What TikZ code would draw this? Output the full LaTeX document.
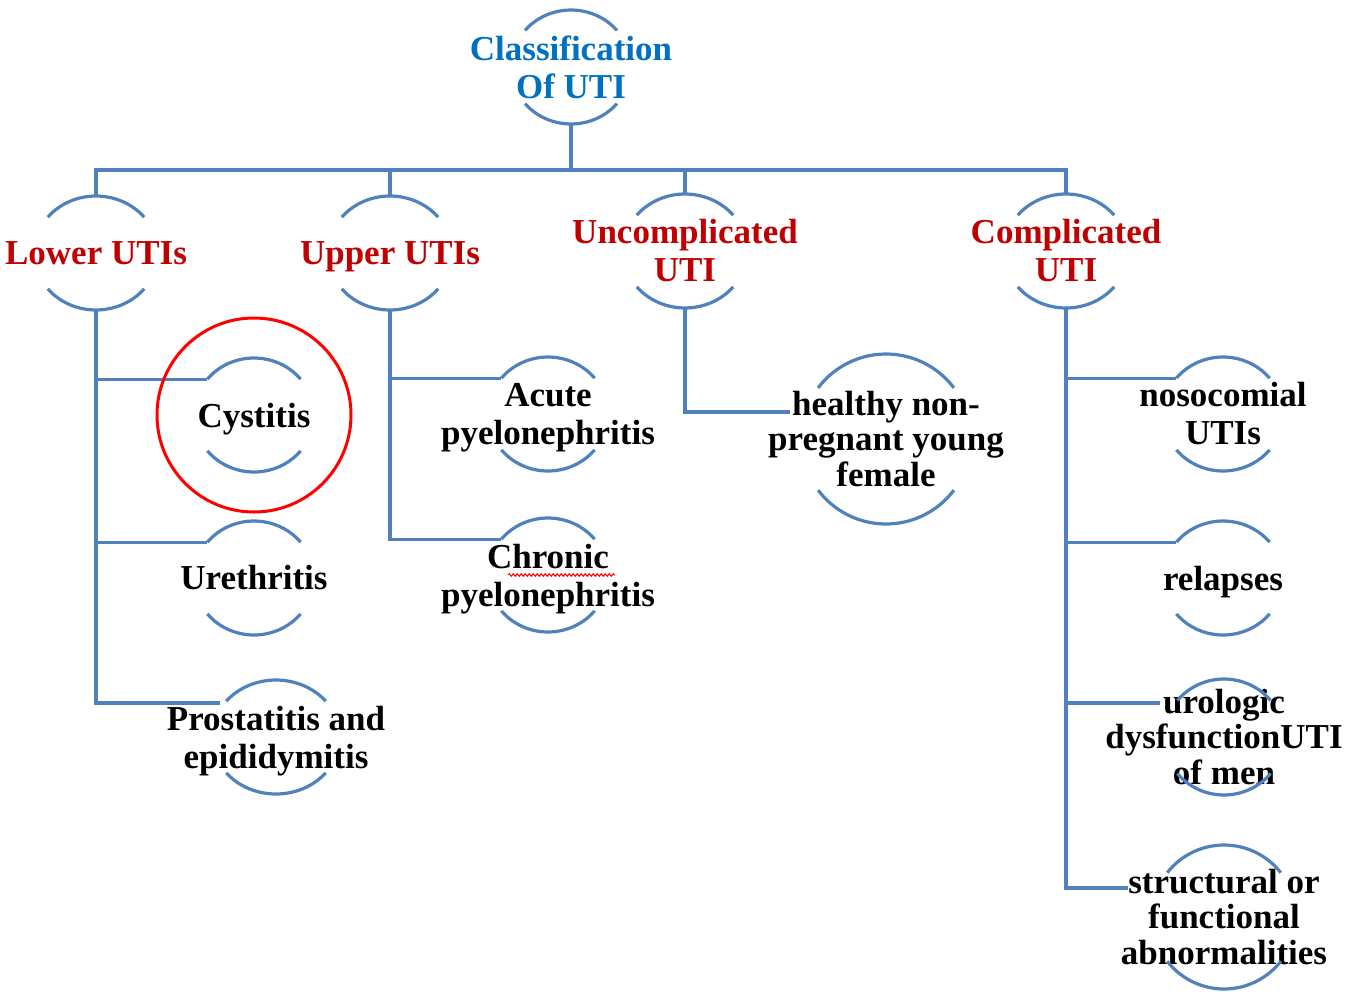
\documentclass[tikz,border=0pt]{standalone}
\usepackage{fontspec}
\setmainfont{Liberation Serif}
\usetikzlibrary{calc,decorations.pathmorphing}
\definecolor{lineblue}{RGB}{79,129,189}
\definecolor{titleblue}{RGB}{0,112,192}
\definecolor{darkred}{RGB}{192,0,0}
\pgfdeclarelayer{bg}
\pgfsetlayers{bg,main}
\newcommand\nodepth[1]{\raisebox{0pt}[\height][0pt]{#1}}
\tikzset{
  lbl/.style={font=\fontsize{35}{38}\selectfont\bfseries, align=center, inner sep=0pt, text=black},
  lblthree/.style={lbl, font=\fontsize{35}{35.5}\selectfont\bfseries},
  toplbl/.style={lbl, text=titleblue},
  catlbl/.style={lbl, text=darkred},
  conn/.style={draw=lineblue, line width=3.2pt},
  arcline/.style={draw=lineblue, line width=3.2pt},
}
% #1 node name, #2 x radius (pt), #3 y radius (pt), #4 half-angle from horizontal
\newcommand\twoarcs[4]{%
  \draw[arcline] ($(#1.center)+({180-#4}:#2pt and #3pt)$) arc[start angle={180-#4}, end angle=#4, x radius=#2pt, y radius=#3pt];
  \draw[arcline] ($(#1.center)+({180+#4}:#2pt and #3pt)$) arc[start angle={180+#4}, end angle={360-#4}, x radius=#2pt, y radius=#3pt];
  \coordinate (#1-t) at ($(#1.center)+(90:#3pt)$);
  \coordinate (#1-b) at ($(#1.center)+(270:#3pt)$);
  \coordinate (#1-l) at ($(#1.center)+({180-#4}:#2pt and #3pt)$);
}
\begin{document}
\begin{tikzpicture}[x=1pt,y=-1pt]
\useasboundingbox (0,0) rectangle (1345,994);

% nodes
\node[toplbl] (root) at (571,67) {Classification\\Of UTI};
\node[catlbl] (lower) at (96,253) {Lower UTIs};
\node[catlbl] (upper) at (390,253) {\nodepth{Upper UTIs}};
\node[catlbl] (uncomp) at (685,251) {Uncomplicated\\UTI};
\node[catlbl] (comp) at (1066,251) {Complicated\\UTI};

\node[lbl] (cyst) at (254,415) {\nodepth{Cystitis}};
\node[lbl] (ureth) at (254,578) {Urethritis};
\node[lbl] (prost) at (276,737) {Prostatitis and\\\nodepth{epididymitis}};

\node[lbl] (acute) at (548,414) {Acute\\\nodepth{pyelonephritis}};
\node[lbl] (chron) at (548,575) {Chronic\\\nodepth{pyelonephritis}};

\node[lblthree] (healthy) at (886,439) {healthy non-\\pregnant young\\female};

\node[lbl] (nosoc) at (1223,414) {nosocomial\\UTIs};
\node[lbl] (relap) at (1223,578) {\nodepth{relapses}};
\node[lblthree] (uro) at (1224,737) {urologic\\dysfunctionUTI\\of men};
\node[lblthree] (struct) at (1224,917) {structural or\\functional\\abnormalities};

% arcs
\twoarcs{root}{60}{57}{40}
\twoarcs{lower}{62}{57}{39}
\twoarcs{upper}{62}{57}{39}
\twoarcs{uncomp}{62}{57}{39}
\twoarcs{comp}{62}{57}{39}
\twoarcs{cyst}{60}{57}{39}
\twoarcs{ureth}{60}{57}{39}
\twoarcs{prost}{64}{57}{39}
\twoarcs{acute}{60}{57}{39}
\twoarcs{chron}{60}{57}{39}
\twoarcs{healthy}{85}{85}{37}
\twoarcs{nosoc}{60}{57}{39}
\twoarcs{relap}{60}{57}{39}
\twoarcs{uro}{60}{58}{39}
\twoarcs{struct}{72}{72}{38}

% custom connector ends
\coordinate (healthy-in) at ($(healthy.center)+(-96,-27)$);
\coordinate (uro-in) at ($(uro.center)+(-64,-34)$);
\coordinate (struct-in) at ($(struct.center)+(-96,-29)$);
\coordinate (prost-in) at ($(prost.center)+(-56,-34)$);
\coordinate (bar) at (0,170);

\begin{pgfonlayer}{bg}
  \draw[conn] (root-b) -- (root-b |- bar);
  \draw[conn] (lower-t) -- (lower-t |- bar) -- (comp-t |- bar) -- (comp-t);
  \draw[conn] (upper-t) -- (upper-t |- bar);
  \draw[conn] (uncomp-t) -- (uncomp-t |- bar);

  \draw[conn] (lower-b) |- (cyst-l);
  \draw[conn] (lower-b) |- (ureth-l);
  \draw[conn] (lower-b) |- (prost-in);

  \draw[conn] (upper-b) |- (acute-l);
  \draw[conn] (upper-b) |- (chron-l);

  \draw[conn] (uncomp-b) |- (healthy-in);

  \draw[conn] (comp-b) |- (nosoc-l);
  \draw[conn] (comp-b) |- (relap-l);
  \draw[conn] (comp-b) |- (uro-in);
  \draw[conn] (comp-b) |- (struct-in);
\end{pgfonlayer}

% spelling squiggle under "Chronic"
\draw[red, line width=1pt, decorate, decoration={snake, amplitude=1.3pt, segment length=4pt}]
  ($(chron.center)+(-40,0)$) -- ($(chron.center)+(67,0)$);

% red highlight circle
\draw[red, line width=3pt] (cyst.center) circle[radius=97pt];
\end{tikzpicture}
\end{document}
